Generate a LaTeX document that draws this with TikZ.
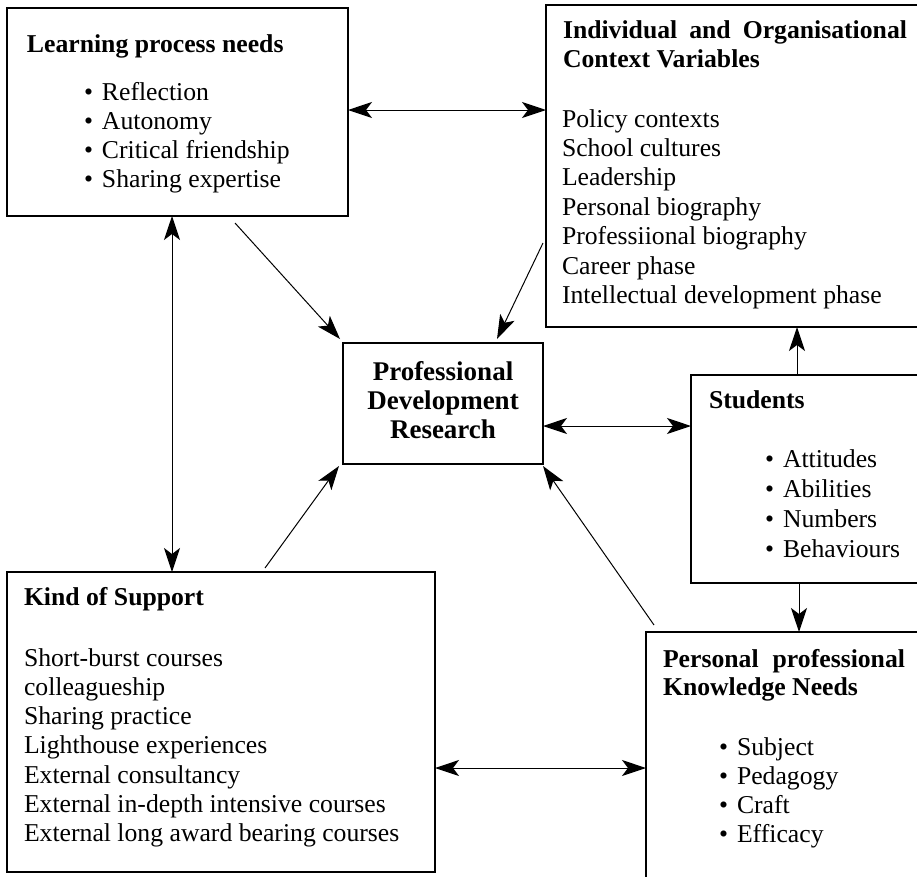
\documentclass[tikz,border=0pt]{standalone}
\usepackage{fontspec}
\setmainfont{Liberation Serif}
\usetikzlibrary{arrows.meta,calc}
\newcommand\bitem[1]{\hbox{\makebox[18pt][l]{\textbullet}#1}}
\newcommand\lnitem[1]{\hbox{#1}}
\newcommand\cenline[1]{\hbox to 0pt{\hss #1\hss}}
\begin{document}
\begin{tikzpicture}[x=1pt,y=-1pt,
  box/.style={draw,line width=1.1pt,anchor=north west,inner sep=0pt,outer sep=0pt},
  txt/.style={anchor=base west,inner sep=0pt,outer sep=0pt,font=\fontsize{25.7}{29.4}\selectfont},
  ctxt/.style={anchor=base,inner sep=0pt,outer sep=0pt,font=\fontsize{27}{29}\selectfont\bfseries},
  tip/.tip={Stealth[length=24pt,width=16pt,inset=6pt]},
  arr/.style={line width=1pt,-tip},
  darr/.style={line width=1pt,tip-tip}]
\useasboundingbox (0,0) rectangle (917,876);
\clip (0,0) rectangle (917,876);
\fill[white] (0,0) rectangle (917,876);
% boxes
\node[box,minimum width=341pt,minimum height=208pt] (lpn) at (7,8) {};
\node[box,minimum width=380pt,minimum height=322pt] (ioc) at (546,5) {};
\node[box,minimum width=200pt,minimum height=121pt] (pdr) at (343,343) {};
\node[box,minimum width=240pt,minimum height=208pt] (stu) at (691,375) {};
\node[box,minimum width=280pt,minimum height=260pt] (pkn) at (646,632) {};
\node[box,minimum width=428pt,minimum height=300pt] (ks) at (7,572) {};
% texts
\node[txt,font=\fontsize{25.7}{29.4}\selectfont\bfseries] (lpnh) at (27,52) {Learning process needs};
\node[txt] (lpnl) at (84,100) {\vtop{\baselineskip=29pt\lineskiplimit=-100pt
  \bitem{Reflection}\bitem{Autonomy}\bitem{Critical friendship}\bitem{Sharing expertise}}};
\node[txt,font=\fontsize{25.7}{29.4}\selectfont\bfseries] (ioch) at (563,38) {\vtop{\baselineskip=29pt\lineskiplimit=-100pt
  \hbox to 344pt{Individual\hfill and\hfill Organisational}\hbox{Context Variables}}};
\node[txt] (iocl) at (562,127) {\vtop{\baselineskip=29.4pt\lineskiplimit=-100pt
  \lnitem{Policy contexts}\lnitem{School cultures}\lnitem{Leadership}\lnitem{Personal biography}\lnitem{Professiional biography}\lnitem{Career phase}\lnitem{Intellectual development phase}}};
\node[ctxt] (pdrt) at (443,380) {\vtop{\baselineskip=29pt\lineskiplimit=-100pt
  \cenline{Professional}\cenline{Development}\cenline{Research}}};
\node[txt,font=\fontsize{25.7}{29.4}\selectfont\bfseries] (stuh) at (709,408) {Students};
\node[txt] (stul) at (765,467) {\vtop{\baselineskip=30pt\lineskiplimit=-100pt
  \bitem{Attitudes}\bitem{Abilities}\bitem{Numbers}\bitem{Behaviours}}};
\node[txt,font=\fontsize{25.7}{29.4}\selectfont\bfseries] (ksh) at (24,605) {Kind of Support};
\node[txt] (ksl) at (24,666) {\vtop{\baselineskip=29.3pt\lineskiplimit=-100pt
  \lnitem{Short-burst courses}\lnitem{colleagueship}\lnitem{Sharing practice}\lnitem{Lighthouse experiences}\lnitem{External consultancy}\lnitem{External in-depth intensive courses}\lnitem{External long award bearing courses}}};
\node[txt,font=\fontsize{25.7}{29.4}\selectfont\bfseries] (pknh) at (663,667) {\vtop{\baselineskip=28pt\lineskiplimit=-100pt
  \hbox to 242pt{Personal\hfill professional}\hbox{Knowledge Needs}}};
\node[txt] (pknl) at (719,755) {\vtop{\baselineskip=29pt\lineskiplimit=-100pt
  \bitem{Subject}\bitem{Pedagogy}\bitem{Craft}\bitem{Efficacy}}};
% connectors
\draw[darr] ($(lpn.north east)+(0,102)$) -- ($(ioc.north west)+(0,105)$);
\draw[darr] ($(lpn.south west)+(165,0)$) -- ($(ks.north west)+(165,0)$);
\draw[arr] ($(lpn.south west)+(228,7)$) -- ($(pdr.north west)+(-3,-4)$);
\draw[arr] ($(ioc.north west)+(-3,238)$) -- ($(pdr.north west)+(154,-4)$);
\draw[arr] ($(ks.north west)+(258,-4)$) -- ($(pdr.south west)+(-4,2)$);
\draw[arr] ($(pkn.north west)+(8,-7)$) -- ($(pdr.south east)+(0,2)$);
\draw[darr] ($(pdr.north east)+(0,83)$) -- ($(stu.north west)+(0,51)$);
\draw[arr] ($(stu.north west)+(106,0)$) -- ($(ioc.south west)+(251,0)$);
\draw[arr] ($(stu.south west)+(108,0)$) -- ($(pkn.north west)+(153,0)$);
\draw[darr] ($(ks.north east)+(0,196)$) -- ($(pkn.north west)+(0,136)$);
\end{tikzpicture}
\end{document}
